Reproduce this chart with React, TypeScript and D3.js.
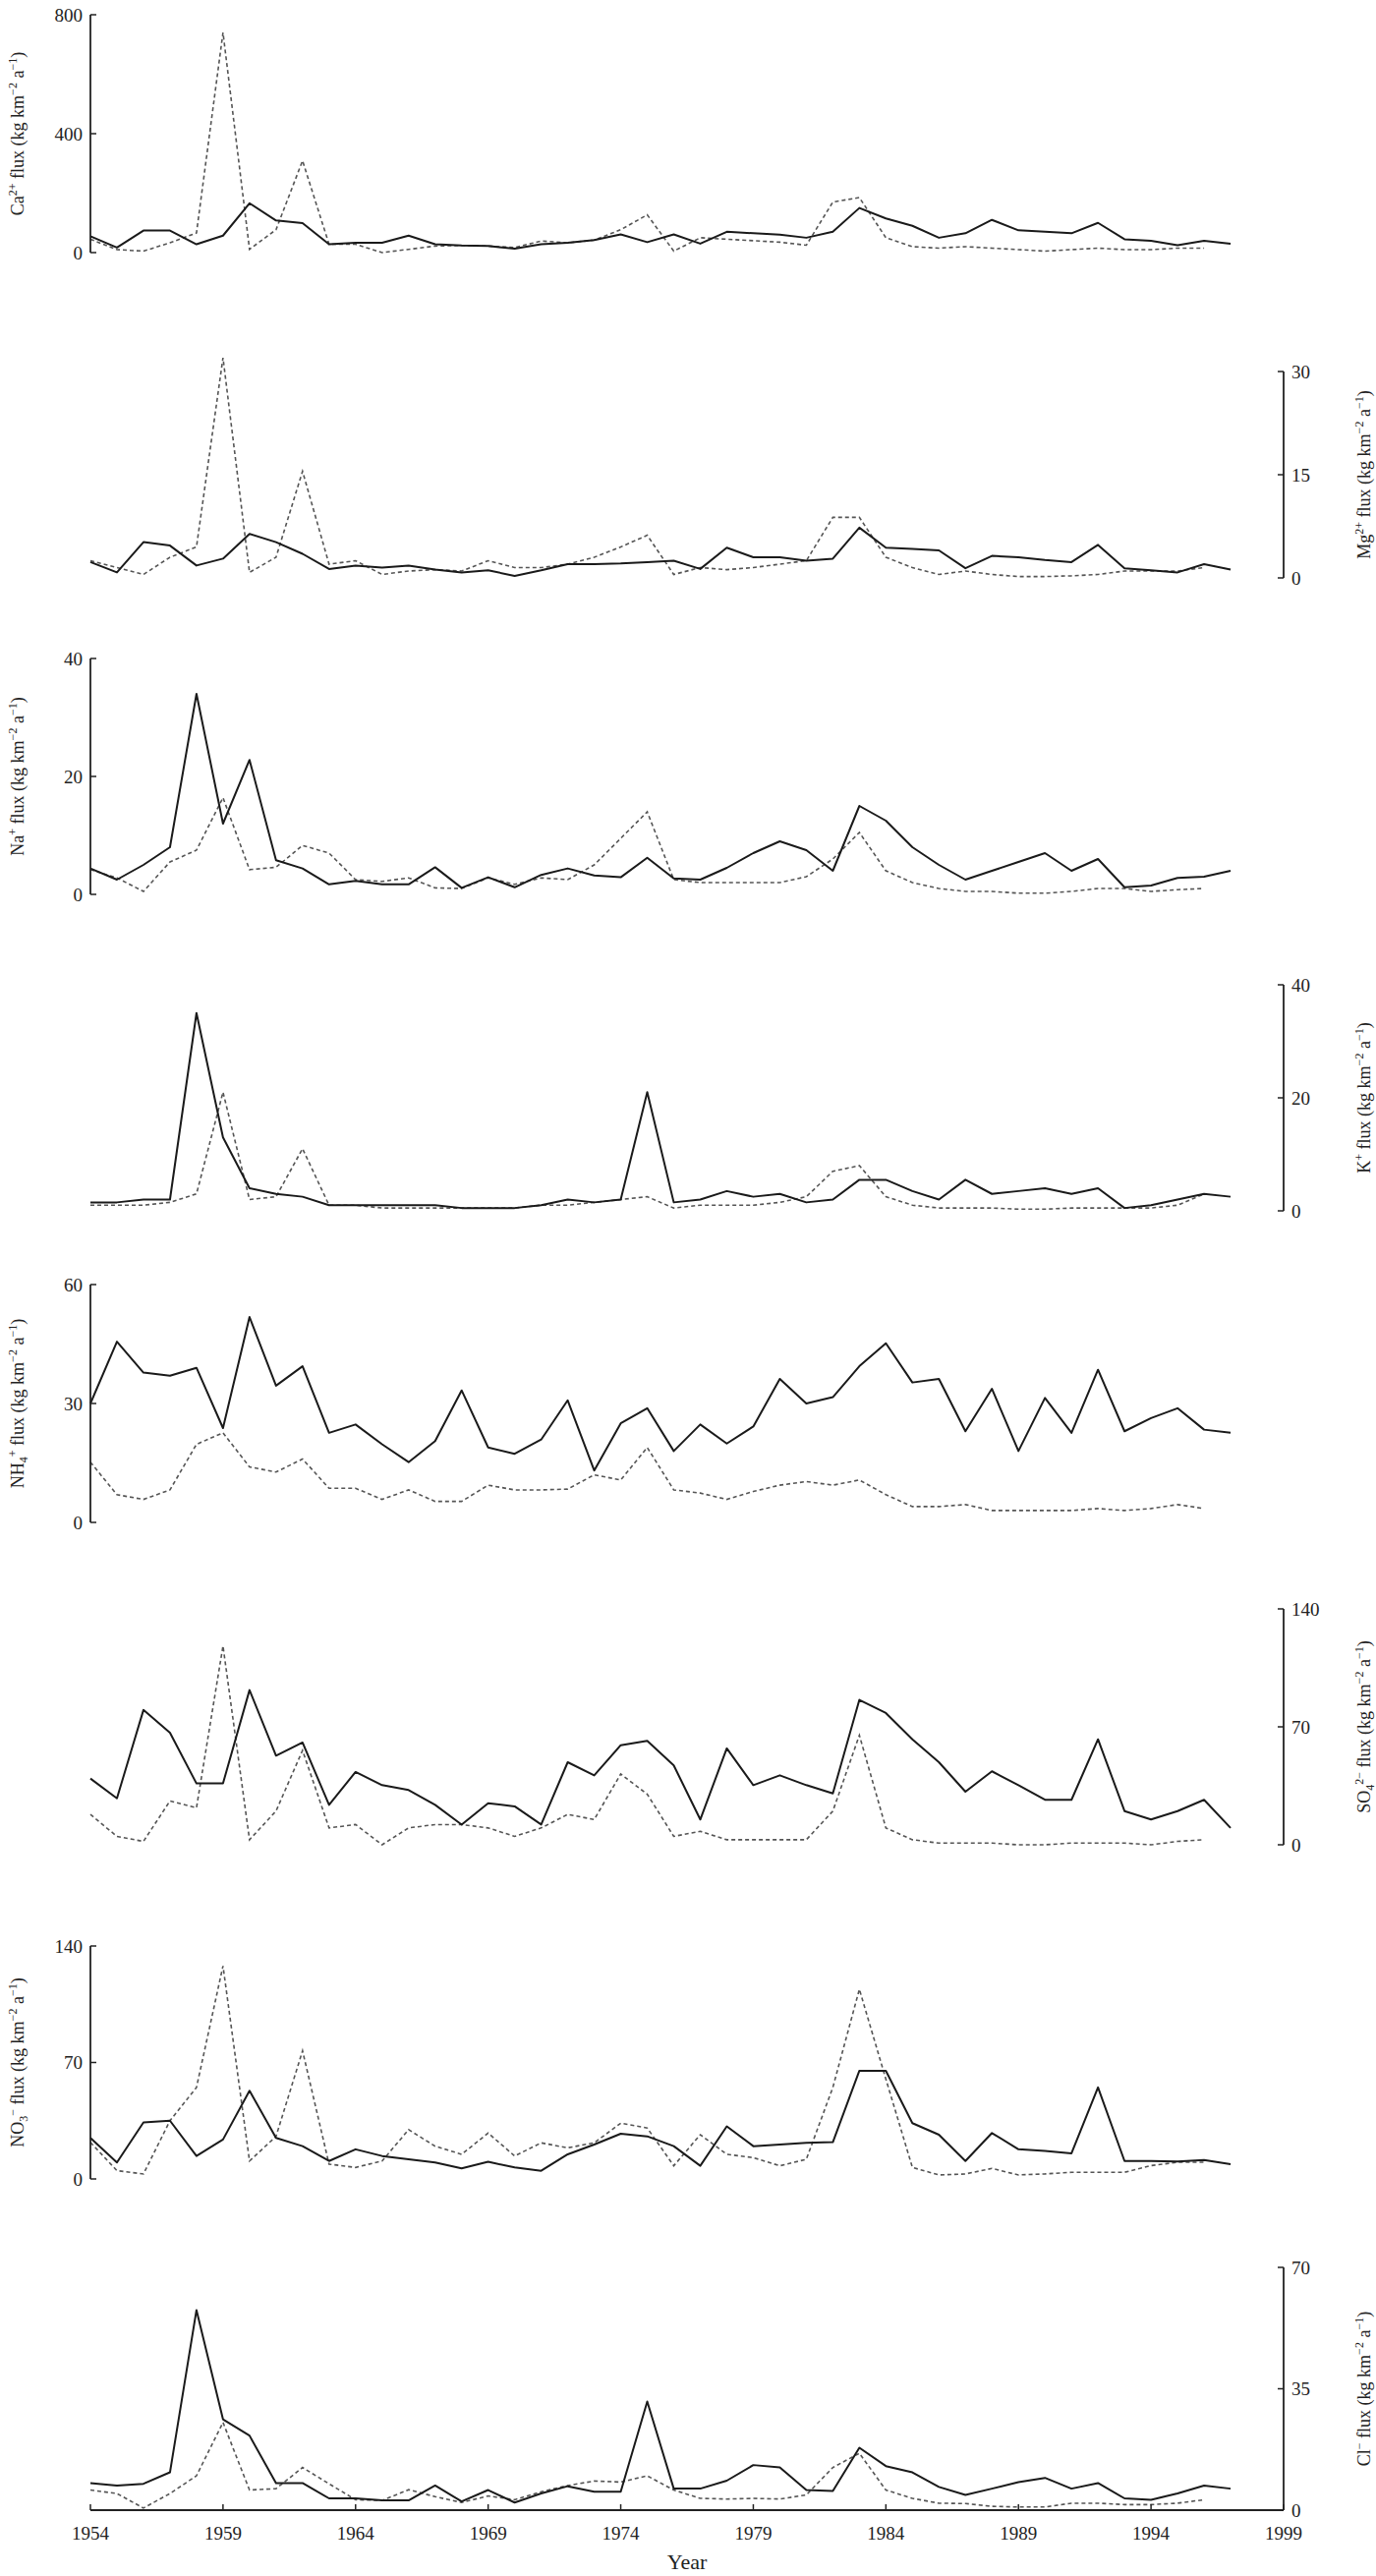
import * as d3 from 'd3';
import React from 'react';

// years of the record
const years = d3.range(1954, 1998);
const xTicks = [1954, 1959, 1964, 1969, 1974, 1979, 1984, 1989, 1994, 1999];

// solid = one site, dashed = the other (dashed stops in 1996)
const caSolid = [55, 17, 74, 74, 28, 57, 166, 108, 99, 28, 33, 33, 57, 28, 24, 22, 13, 28, 33, 42, 61, 35, 61,
  30, 70, 65, 60, 50, 70, 150, 115, 90, 50, 65, 110, 75, 70, 65, 100, 45, 40, 25, 40, 30];
const caDashed = [45, 10, 5, 33, 66, 740, 11, 77, 309, 28, 28, 0, 11, 22, 24, 22, 17, 39, 33, 42, 77, 127, 5,
  50, 45, 40, 35, 25, 170, 185, 50, 20, 15, 20, 15, 10, 5, 10, 15, 10, 10, 15, 15];

const mgSolid = [2.3, 0.8, 5.2, 4.7, 1.8, 2.8, 6.4, 5.2, 3.5, 1.3, 1.8, 1.5, 1.8, 1.2, 0.8, 1.1, 0.3, 1.1, 2.0, 2.0,
  2.1, 2.3, 2.5, 1.3, 4.4, 3.0, 3.0, 2.5, 2.8, 7.3, 4.4, 4.2, 4.0, 1.4, 3.2, 3.0, 2.6, 2.3, 4.8, 1.4, 1.1, 0.8, 2.0, 1.2];
const mgDashed = [2.5, 1.5, 0.5, 3.0, 4.5, 32, 0.8, 3.0, 15.5, 2.0, 2.5, 0.5, 1.0, 1.2, 1.0, 2.5, 1.5, 1.5, 2.0, 3.0,
  4.5, 6.2, 0.5, 1.5, 1.2, 1.5, 2.0, 2.5, 8.8, 8.8, 3.0, 1.5, 0.5, 1.0, 0.5, 0.2, 0.2, 0.3, 0.5, 1.0, 1.0, 1.0, 1.5];

const naSolid = [4.4, 2.5, 5, 8, 34, 12, 22.8, 5.8, 4.4, 1.7, 2.3, 1.7, 1.7, 4.6, 1.1, 2.9, 1.2, 3.3, 4.4, 3.2,
  2.9, 6.2, 2.7, 2.5, 4.5, 7, 9, 7.5, 4, 15, 12.5, 8, 5, 2.5, 4, 5.5, 7, 4, 6, 1.2, 1.5, 2.8, 3, 4];
const naDashed = [4.2, 2.8, 0.5, 5.5, 7.5, 16.4, 4.2, 4.6, 8.3, 7, 2.5, 2.2, 2.8, 1.1, 1, 2.8, 1.7, 2.8, 2.5, 5,
  9.5, 14, 2.5, 2, 2, 2, 2, 3, 6, 10.5, 4, 2, 1, 0.5, 0.5, 0.2, 0.2, 0.5, 1, 1, 0.5, 0.8, 1];

const kSolid = [1.5, 1.5, 2, 2, 35, 13, 4, 3, 2.5, 1, 1, 1, 1, 1, 0.5, 0.5, 0.5, 1, 2, 1.5,
  2, 21, 1.5, 2, 3.5, 2.5, 3, 1.5, 2, 5.5, 5.5, 3.5, 2, 5.5, 3, 3.5, 4, 3, 4, 0.5, 1, 2, 3, 2.5];
const kDashed = [1, 1, 1, 1.5, 3, 21, 2, 2.5, 11, 1, 1, 0.5, 0.5, 0.5, 0.5, 0.5, 0.5, 1, 1, 1.5,
  2, 2.5, 0.5, 1, 1, 1, 1.5, 2.5, 7, 8, 2.5, 1, 0.5, 0.5, 0.5, 0.3, 0.3, 0.5, 0.5, 0.5, 0.5, 1, 3];

const nh4Solid = [30, 45.6, 37.8, 37, 39, 23.8, 51.8, 34.5, 39.4, 22.6, 24.7, 19.7, 15.2, 20.5, 33.3, 18.9, 17.3, 20.9, 30.8, 13.1,
  25, 28.8, 18, 24.7, 19.9, 24.2, 36.2, 30, 31.6, 39.4, 45.2, 35.3, 36.2, 23, 33.7, 18, 31.4, 22.6, 38.5, 23, 26.3, 28.8, 23.4, 22.6];
const nh4Dashed = [15.2, 7, 5.8, 8.2, 19.7, 22.6, 14, 12.7, 16, 8.6, 8.6, 5.8, 8.2, 5.3, 5.3, 9.4, 8.2, 8.2, 8.4, 12,
  10.7, 18.9, 8.2, 7.4, 5.8, 7.8, 9.4, 10.3, 9.4, 10.7, 7, 4, 4, 4.5, 3, 3, 3, 3, 3.5, 3, 3.5, 4.5, 3.5];

const so4Solid = [39.3, 27.6, 80, 66.5, 36.4, 36.4, 91.8, 52.9, 60.7, 23.7, 43.2, 35.4, 32.5, 23.7, 12, 24.7, 22.8, 12, 49, 41.2,
  59.1, 61.7, 47.1, 15, 57.2, 35.4, 41.2, 35.4, 30.5, 86, 78.2, 62.6, 49, 31.5, 43.6, 35.4, 26.7, 26.7, 62.6, 20, 15, 20, 26.7, 10];
const so4Dashed = [18, 5, 2, 26, 22, 118, 3, 20, 56, 10, 12, 0, 10, 12, 12, 10, 5, 10, 18, 15,
  42, 30, 5, 8, 3, 3, 3, 3, 20, 65, 10, 3, 1, 1, 1, 0, 0, 1, 1, 1, 0, 2, 3];

const no3Solid = [24.7, 9.9, 34, 35, 13.8, 23.7, 53, 24.7, 19.7, 10.8, 17.8, 13.8, 11.8, 9.9, 6.3, 10.3, 6.9, 4.9, 14.8, 20.7,
  27.2, 25.6, 19.7, 7.9, 31.6, 19.7, 20.7, 21.7, 22.1, 65, 65, 33.5, 26.6, 10.8, 27.6, 17.8, 16.8, 15.4, 55, 10.8, 10.8, 10.5, 11.4, 8.9];
const no3Dashed = [22, 5, 3, 35, 55, 128, 10.8, 25.6, 77, 8.9, 6.9, 10.8, 29.6, 19.7, 14.8, 27.6, 13.8, 21.7, 18.7, 21.7,
  33.5, 30.6, 7.9, 26.6, 14.8, 12.8, 7.9, 11.8, 55, 114, 60, 6.9, 2.4, 3, 6.3, 2.4, 3, 4, 4, 4, 8, 10, 10];

const clSolid = [7.8, 7.1, 7.6, 10.9, 57.7, 26.2, 21.5, 7.8, 7.8, 3.4, 3.4, 2.8, 2.8, 7.1, 2.5, 5.8, 2.2, 4.8, 6.9, 5.3,
  5.3, 31.3, 6.2, 6.2, 8.5, 13, 12.3, 5.8, 5.5, 18, 12.7, 10.9, 6.7, 4.4, 6.2, 8.1, 9.3, 6.2, 7.8, 3.4, 3, 4.8, 7.1, 6.2];
const clDashed = [5.8, 4.8, 0.6, 4.8, 9.9, 25.3, 5.8, 6.2, 12.3, 7.6, 3, 2.8, 5.9, 3.9, 2.2, 4.1, 3, 5.3, 7.1, 8.4,
  8.1, 9.9, 5.8, 3.4, 3.2, 3.4, 3.2, 4.4, 12.3, 16.4, 5.8, 3.4, 2, 1.9, 1.1, 0.9, 0.9, 2, 2, 1.6, 1.6, 2, 3];

// ion label pieces: [text, 'n' | 'sup' | 'sub']
type Part = [string, string];
const unit: Part[] = [[' flux (kg km', 'n'], ['−2', 'sup'], [' a', 'n'], ['−1', 'sup'], [')', 'n']];

const panels = [
  { ion: [['Ca', 'n'], ['2+', 'sup']], solid: caSolid, dashed: caDashed, max: 800, ticks: [0, 400, 800], side: 'left', top: 15, bottom: 257 },
  { ion: [['Mg', 'n'], ['2+', 'sup']], solid: mgSolid, dashed: mgDashed, max: 30, ticks: [0, 15, 30], side: 'right', top: 378, bottom: 588 },
  { ion: [['Na', 'n'], ['+', 'sup']], solid: naSolid, dashed: naDashed, max: 40, ticks: [0, 20, 40], side: 'left', top: 670, bottom: 910 },
  { ion: [['K', 'n'], ['+', 'sup']], solid: kSolid, dashed: kDashed, max: 40, ticks: [0, 20, 40], side: 'right', top: 1002, bottom: 1232 },
  { ion: [['NH', 'n'], ['4', 'sub'], ['+', 'sup']], solid: nh4Solid, dashed: nh4Dashed, max: 60, ticks: [0, 30, 60], side: 'left', top: 1307, bottom: 1549 },
  { ion: [['SO', 'n'], ['4', 'sub'], ['2−', 'sup']], solid: so4Solid, dashed: so4Dashed, max: 140, ticks: [0, 70, 140], side: 'right', top: 1637, bottom: 1877 },
  { ion: [['NO', 'n'], ['3', 'sub'], ['−', 'sup']], solid: no3Solid, dashed: no3Dashed, max: 140, ticks: [0, 70, 140], side: 'left', top: 1980, bottom: 2217 },
  { ion: [['Cl', 'n'], ['−', 'sup']], solid: clSolid, dashed: clDashed, max: 70, ticks: [0, 35, 70], side: 'right', top: 2307, bottom: 2554 },
];

const FONT = '"Liberation Serif", "Times New Roman", serif';
const W = 1400;
const H = 2621;
const x = d3.scaleLinear().domain([1954, 1999]).range([92, 1306]);

const Label = ({ parts, cx, cy }: { parts: Part[]; cx: number; cy: number }) => {
  let level = 0;
  const spans = parts.map(([t, mode], i) => {
    const target = mode === 'sup' ? -7 : mode === 'sub' ? 4 : 0;
    const dy = target - level;
    level = target;
    return (
      <tspan key={i} dy={dy} fontSize={mode === 'n' ? 18 : 12}>{t}</tspan>
    );
  });
  return (
    <text transform={`translate(${cx},${cy}) rotate(-90)`} textAnchor="middle" fontFamily={FONT} fontSize={18} fill="#222">
      {spans}
    </text>
  );
};

const Panel = ({ p }: { p: any }) => {
  const y = d3.scaleLinear().domain([0, p.max]).range([p.bottom, p.top]);
  const line = d3.line<number>().x((_, i) => x(years[i])).y((d) => y(d));
  const left = p.side === 'left';
  const ax = left ? x(1954) : x(1999);
  const dir = left ? 1 : -1;
  const mid = (p.top + p.bottom) / 2;
  return (
    <g>
      <path d={line(p.dashed) || ''} fill="none" stroke="#555" strokeWidth={1.6} strokeDasharray="4 3" />
      <path d={line(p.solid) || ''} fill="none" stroke="#1a1a1a" strokeWidth={2} strokeLinejoin="round" />
      <line x1={ax} x2={ax} y1={y(p.max)} y2={y(0)} stroke="#222" strokeWidth={1.8} />
      {p.ticks.map((t: number) => (
        <g key={t}>
          <line x1={ax} x2={ax + dir * 6} y1={y(t)} y2={y(t)} stroke="#222" strokeWidth={1.5} />
          <text x={ax - dir * 8} y={y(t)} dy="0.35em" textAnchor={left ? 'end' : 'start'}
            fontFamily={FONT} fontSize={19} fill="#222">{t}</text>
        </g>
      ))}
      <Label parts={[...p.ion, ...unit]} cx={left ? 24 : 1394} cy={mid} />
    </g>
  );
};

export default function App() {
  const xAxisY = 2554;
  return (
    <svg width={W} height={H} viewBox={`0 0 ${W} ${H}`} style={{ position: 'absolute', left: 0, top: 0, background: '#fff' }}>
      <rect width={W} height={H} fill="#fff" />
      {panels.map((p, i) => <Panel key={i} p={p} />)}
      <line x1={x(1954)} x2={x(1999)} y1={xAxisY} y2={xAxisY} stroke="#222" strokeWidth={2} />
      {xTicks.map((t) => (
        <g key={t}>
          <line x1={x(t)} x2={x(t)} y1={xAxisY} y2={xAxisY - 6} stroke="#222" strokeWidth={1.5} />
          <text x={x(t)} y={2584} textAnchor="middle" fontFamily={FONT} fontSize={19} fill="#222">{t}</text>
        </g>
      ))}
      <text x={(x(1954) + x(1999)) / 2} y={2614} textAnchor="middle" fontFamily={FONT} fontSize={22} fill="#222">Year</text>
    </svg>
  );
}
